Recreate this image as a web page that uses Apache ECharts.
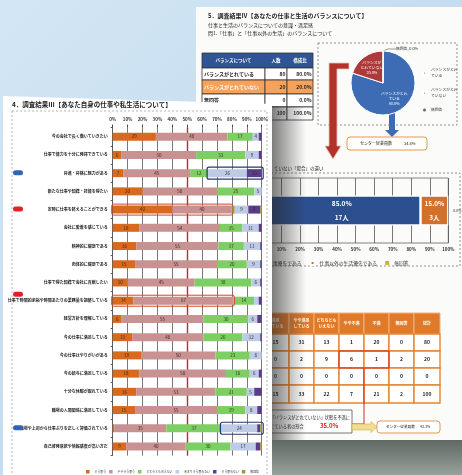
<!DOCTYPE html>
<html><head><meta charset="utf-8">
<script src="https://cdn.jsdelivr.net/npm/echarts@6/dist/echarts.min.js"></script>
<style>html,body{margin:0;padding:0;background:#c4dcef}#c{width:462px;height:475px}</style>
</head><body><div id="c"></div><script>
// ---------- Front page: 調査結果Ⅲ ----------
const categories = [
 '今の会社で長く働いていきたい',
 '仕事で能力を十分に発揮できている',
 '昇進・昇格に魅力がある',
 '新たな仕事や知識・技能を得たい',
 '定時に仕事を終えることができる',
 '会社に愛着を感じている',
 '精神的に健康である',
 '肉体的に健康である',
 '仕事で得た知識で会社に貢献したい',
 '仕事で時間的余裕や時間あたりの業務量を調整している',
 '経営方針を理解している',
 '今の仕事に満足している',
 '今の仕事はやりがいがある',
 '今の給与に満足している',
 '十分な休暇が取れている',
 '職場の人間関係に満足している',
 '職場や上司から仕事ぶりを正しく評価されている',
 '自己啓発意欲や情報感度が高い方だ'
];
const seriesNames = ['そう思う','ややそう思う','どちらとも言えない','あまりそう思わない','そう思わない','無回答'];
const souOmou     = [29, 6, 7,20,40,18,16,15,10,14, 6,13,19,18,16,15, 1, 9];
const yayaSouOmou = [48,50,45,50,40,54,55,55,45,67,55,48,50,58,53,55,35,40];
const dochiraMo   = [17,33,12,25, 2,15,17,20,38,14,30,26,23,16,21,19,37,30];
const amariSou    = [ 4, 9,26, 5, 9,11,11, 9, 6, 3, 6,12, 8, 6, 5, 8,24,17];
const souOmowanai = [ 2, 2,10, 0, 8, 2, 1, 1, 1, 2, 3, 1, 0, 2, 5, 3, 2, 3];
const mukaito     = [ 0, 0, 0, 0, 1, 0, 0, 0, 0, 0, 0, 0, 0, 0, 0, 0, 1, 1];
const pctTicks = ['0%','10%','20%','30%','40%','50%','60%','70%','80%','90%','100%'];
const blueMarkedRows = [2, 16];
const redMarkedRows = [4, 9];

// ---------- Back page: 調査結果Ⅳ ----------
const balanceLabels = ['バランスがとれている','バランスがとれていない','無回答','合計'];
const balanceCounts = [80, 20, 0, 100];
const balanceRatios = ['80.0%','20.0%','0.0%','100.0%'];
const pieNames = ['バランスがとれている','バランスがとれていない','無回答'];
const pieValues = [80, 20, 0];
const priorityNames = ['仕事優先である','仕事以外の生活優先である','無回答'];
const priorityPct = [85.0, 15.0, 0.0];
const priorityPeople = [17, 3, 0];
const crossHeaders = ['満足\nしている','やや満足\nしている','どちらとも\nいえない','やや不満','不満','無回答','総計'];
const crossBalanced   = [15,31,13,1,20,0,80];
const crossUnbalanced = [0,2,9,6,1,2,20];
const crossNoAnswer   = [0,0,0,0,0,0,0];
const crossTotal      = [15,33,22,7,21,2,100];

const FONT = '"Noto Sans CJK JP","Noto Sans",sans-serif';
const frontColors = ['#d8691d','#c99292','#7dcf63','#bdcbe6','#5a3c8b','#9c9a3a'];
const frontData = [souOmou, yayaSouOmou, dochiraMo, amariSou, souOmowanai, mukaito];

const chart = echarts.init(document.getElementById('c'), null, {renderer:'canvas'});

function T(x, y, text, o) {
  o = o || {};
  return {type:'text', x:x, y:y, z:o.z == null ? 3 : o.z, silent:true,
    style:{text:text, fill:o.fill||'#222', fontSize:o.size||5, fontFamily:FONT,
      fontWeight:o.weight||'normal', align:o.align||'left', textAlign:o.align||'left',
      verticalAlign:o.va||'middle', textVerticalAlign:o.va||'middle', lineHeight:o.lh||undefined}};
}
function R(x, y, w, h, style, z, r) {
  return {type:'rect', shape:{x:x,y:y,width:w,height:h,r:r||0}, style:style, z:z, silent:true};
}

const G = [];
// background
G.push(R(0,0,462,475,{fill:new echarts.graphic.LinearGradient(0,0,1,1,[{offset:0,color:'#d3e6f4'},{offset:1,color:'#b7d3ea'}])},0));
// back page
G.push(R(196,7,266,434,{fill:'#fbfbf9'},1));
G.push(R(262,440,200,35,{fill:new echarts.graphic.LinearGradient(0,0,0,1,[{offset:0,color:'#5f6863'},{offset:1,color:'#97a29b'}])},1));
// back page texts
G.push(T(208,16,'5．調査結果Ⅳ【あなたの仕事と生活のバランスについて】',{size:6,weight:'bold'}));
G.push(T(208,25,'仕事と生活のバランスについての意識・満足感',{size:5}));
G.push(T(208,33.5,'問1.「仕事」と「仕事以外の生活」のバランスについて',{size:5}));
// balance table
(function(){
  const cx = [202,265,287,313], ry = [53,68,80,94,107,120];
  G.push(R(202,53,111,15,{fill:'#2f5597',stroke:'#333',lineWidth:0.8},2));
  ['バランスについて','人数','構成比'].forEach((h,i)=>G.push(T((cx[i]+cx[i+1])/2,60.5,h,{size:4.5,fill:'#fff',weight:'bold',align:'center'})));
  balanceLabels.forEach((lab,i)=>{
    const y0 = ry[i+1], h = ry[i+2]-ry[i+1];
    for (let c=0;c<3;c++) G.push(R(cx[c],y0,cx[c+1]-cx[c],h,{fill:i===1?'#f4a25c':'#ffffff',stroke:'#333',lineWidth:0.8},2));
    G.push(T(cx[0]+2,y0+h/2,lab,{size:5,weight:'bold',fill:i===1?'#fff':'#222'}));
    G.push(T(cx[2]-1.5,y0+h/2,String(balanceCounts[i]),{size:5,weight:'bold',align:'right'}));
    G.push(T(cx[3]-1.5,y0+h/2,balanceRatios[i],{size:5,weight:'bold',align:'right'}));
  });
})();
// pie box
G.push(R(318,43,139,82,{fill:'none',stroke:'#777',lineWidth:0.8,lineDash:[2,2]},2));
// red L arrow
G.push({type:'polygon',z:3,silent:true,shape:{points:[[329,63],[349,63],[349,69],[337,69],[337,146],[341,146],[333,159],[325,146],[329,146]]},style:{fill:'#b53229',stroke:'#e6c4c0',lineWidth:0.8}});
// blue arrow from pie
G.push({type:'polygon',z:3,silent:true,shape:{points:[[389,112],[395,112],[395,130],[399,130],[392,137],[385,130],[389,130]]},style:{fill:'#3d6cb5'}});
G.push(R(347,137,80,13,{fill:'#fff',stroke:'#e09a4a',lineWidth:1},3,3));
G.push(T(360,143.5,'センター従業員数',{size:4}));
G.push(T(404,143.5,'34.4%',{size:4}));
// second section
G.push(T(274,168,'ていない「場合」の違い',{size:4.5}));
G.push(R(271,173,189,93,{fill:'none',stroke:'#777',lineWidth:0.8,lineDash:[2,2]},2));
// cross table
(function(){
  const cx = [262,289,314,339,364,389,414,440], ry = [313,334,351,368,385,403];
  const rows = [crossBalanced, crossUnbalanced, crossNoAnswer, crossTotal];
  for (let c=0;c<7;c++) {
    G.push(R(cx[c],ry[0],cx[c+1]-cx[c],ry[1]-ry[0],{fill:'#e07a2b',stroke:'#f3b27a',lineWidth:1},2));
    G.push(T((cx[c]+cx[c+1])/2,(ry[0]+ry[1])/2,crossHeaders[c],{size:4,fill:'#fff',weight:'bold',align:'center',lh:5.5}));
  }
  rows.forEach((row,i)=>{
    for (let c=0;c<7;c++) {
      G.push(R(cx[c],ry[i+1],cx[c+1]-cx[c],ry[i+2]-ry[i+1],{fill:'#fff',stroke:'#e38636',lineWidth:1.4},2));
      G.push(T((cx[c]+cx[c+1])/2,(ry[i+1]+ry[i+2])/2,String(row[c]),{size:5,weight:'bold',align:'center'}));
    }
  });
  G.push(R(339,351,50,17,{fill:'none',stroke:'#d42a20',lineWidth:1},3));
  G.push({type:'polyline',z:3,silent:true,shape:{points:[[364,368],[364,424],[352,424]]},style:{stroke:'#d42a20',lineWidth:1,fill:'none'}});
})();
G.push(R(262,410,90,23,{fill:'#fff',stroke:'#555',lineWidth:0.8},3));
G.push(T(350,417,'「バランスがとれていない」状態を不満に',{size:4.2,align:'right'}));
G.push(T(266,426,'感じている者の割合',{size:4.2}));
G.push(T(320,425.5,'35.0%',{size:6,weight:'bold',fill:'#e0201a'}));
G.push({type:'polygon',z:3,silent:true,shape:{points:[[352,424],[371,424],[371,421.5],[377,427],[371,432.5],[371,430],[352,430]]},style:{fill:'#f2dc92',stroke:'#c9b060',lineWidth:0.6}});
G.push(R(377,421,63,12,{fill:'#fff',stroke:'#e09a4a',lineWidth:1},3,3));
G.push(T(386,427,'センター従業員数',{size:3.6}));
G.push(T(420,427,'43.3%',{size:3.6}));
// shadow of front page on back page
G.push(R(272,106,34,334,{fill:new echarts.graphic.LinearGradient(0,0,1,0,[{offset:0,color:'rgba(40,40,40,0.6)'},{offset:1,color:'rgba(40,40,40,0)'}])},4));
// front page
G.push({type:'polygon',z:5,silent:true,shape:{points:[[3,96],[272,104],[272,475],[3,475]]},style:{fill:'#ffffff'}});
G.push(R(12,111,255,370,{fill:'none',stroke:'#999',lineWidth:0.7,lineDash:[2,2]},6));
G.push(T(12,105,'4．調査結果Ⅲ【あなた自身の仕事や私生活について】',{size:6.5,weight:'bold',z:6}));

const frontSeries = seriesNames.map((name,si)=>({
  name:name, type:'bar', stack:'front', xAxisIndex:0, yAxisIndex:0, barWidth:8, z:8,
  itemStyle:{color:frontColors[si]},
  label:{fontSize:4.5, color:'#3a2a22', fontFamily:FONT, position:'inside'},
  data: frontData[si].map(v=>({value:v, label:{show: si<4 ? v>=4 : (si===4 && v>=8)}})),
  markLine: si===0 ? {silent:true, symbol:'none', label:{show:false}, lineStyle:{color:'#e0201c',width:1.4,type:'solid'}, data:[{xAxis:50}]} : undefined
}));

const backBarColors = ['#2c4f8f','#d3712b','#c8b43a'];
const backSeries = priorityNames.map((name,i)=>({
  name:name, type:'bar', stack:'back', xAxisIndex:1, yAxisIndex:1, barWidth:30, z:3,
  itemStyle:{color:backBarColors[i], borderColor:'#fff', borderWidth:i<2?1.2:0},
  label: i<2 ? {show:true, position:'inside', color:'#fff', fontWeight:'bold', fontSize:6.5, lineHeight:14, fontFamily:FONT,
     formatter:p=>p.value.toFixed(1)+'%\n'+priorityPeople[i]+'人'}
     : {show:true, position:'right', color:'#333', fontSize:3.5, fontFamily:FONT, formatter:p=>p.value.toFixed(1)+'%'},
  data:[priorityPct[i]]
}));

const pieColors = ['#3d6cb5','#ad3a3a','#9a9a9a'];
const pieWrapped = ['バランスがとれ\nている','バランスが\nとれていない'];
const pieSeries = {
  type:'pie', name:'バランス', center:[383,83], radius:32, startAngle:90, z:3,
  itemStyle:{borderColor:'#fff', borderWidth:1},
  labelLine:{length:4, length2:8, lineStyle:{color:'#555',width:0.6}},
  labelLayout: p => p.dataIndex === 2 ? {x:396, y:49, align:'left', verticalAlign:'middle'} : {},
  data: pieNames.map((n,i)=>({name:n, value:pieValues[i], itemStyle:{color:pieColors[i]},
    label: i<2 ? {show:true, position:'inside', color:'#fff', fontSize:3.8, lineHeight:5, fontFamily:FONT,
      formatter:p=>pieWrapped[i]+'\n'+p.percent.toFixed(1)+'%'}
      : {show:true, position:'outside', color:'#333', fontSize:3.8, fontFamily:FONT,
      formatter:p=>p.name+', '+p.percent.toFixed(1)+'%'}}))
};

const option = {
  backgroundColor:'#c4dcef',
  animation:false,
  textStyle:{fontFamily:FONT},
  graphic:{elements:G},
  grid:[
    {left:112.7, width:149, top:127.6, height:328},
    {left:263, width:185.3, top:178, height:65, show:true, borderColor:'#666', borderWidth:0.8, backgroundColor:'transparent', z:2}
  ],
  xAxis:[
    {gridIndex:0, type:'value', position:'top', min:0, max:100, interval:10, z:7,
      axisLabel:{fontSize:4.5, color:'#333', fontWeight:'bold', margin:6, formatter:v=>pctTicks[v/10]},
      axisLine:{show:false}, axisTick:{show:true, length:3, lineStyle:{color:'#444'}},
      splitLine:{show:true, lineStyle:{color:'#555', width:0.8}}},
    {gridIndex:1, type:'value', min:0, max:100, interval:10, z:2,
      axisLabel:{fontSize:4.5, color:'#333', fontWeight:'bold', margin:4, formatter:v=>pctTicks[v/10]},
      axisLine:{show:false}, axisTick:{show:false},
      splitLine:{show:true, lineStyle:{color:'#555', width:0.8}}}
  ],
  yAxis:[
    {gridIndex:0, type:'category', inverse:true, data:categories, z:7,
      axisLabel:{fontSize:4, color:'#222', fontWeight:'bold', margin:5},
      axisLine:{show:true, lineStyle:{color:'#555', width:0.8}}, axisTick:{show:true, length:2, lineStyle:{color:'#555'}}},
    {gridIndex:1, type:'category', data:['バランスがとれていない場合'], z:2,
      axisLabel:{show:false}, axisLine:{show:false}, axisTick:{show:false}}
  ],
  legend:[
    {z:9, right:198, top:465, itemWidth:3.5, itemHeight:3.5, itemGap:3, icon:'rect',
      textStyle:{fontSize:2.9, color:'#333', fontFamily:FONT},
      data: seriesNames.map((n,i)=>({name:n, itemStyle:{color:frontColors[i]}}))},
    {z:3, left:253, top:255, itemWidth:4, itemHeight:4, itemGap:8, icon:'rect',
      textStyle:{fontSize:4.8, color:'#333', fontFamily:FONT},
      data: priorityNames.map((n,i)=>({name:n, itemStyle:{color:backBarColors[i]}}))},
    {z:3, left:417, top:62, orient:'vertical', itemWidth:3, itemHeight:3, itemGap:8, icon:'circle',
      textStyle:{fontSize:3.8, color:'#333', fontFamily:FONT, width:27, overflow:'break', lineHeight:6},
      data: pieNames.map((n,i)=>({name:n, itemStyle:{color:'#666'}}))}
  ],
  series:[...frontSeries, ...backSeries, pieSeries]
};
chart.setOption(option);

// annotation overlays placed through the axes' own scales
const over = [];
function px(v){ return chart.convertToPixel({xAxisIndex:0}, v); }
function py(i){ return chart.convertToPixel({yAxisIndex:0}, categories[i]); }
blueMarkedRows.forEach(i=>{
  const start = souOmou[i]+yayaSouOmou[i]+dochiraMo[i];
  const x0 = px(start)-1, x1 = px(100)+1.5, y = py(i);
  over.push(R(x0,y-6,x1-x0,12,{fill:'none',stroke:'#2a3a66',lineWidth:1.2},10,2));
  over.push(R(13,y-3,10,5,{fill:'#2f63b4'},10,2.5));
});
redMarkedRows.forEach(i=>{
  const end = souOmou[i]+yayaSouOmou[i];
  const x0 = px(0)-1, x1 = px(end)+1, y = py(i);
  over.push(R(x0,y-5.5,x1-x0,11,{fill:'none',stroke:'#d9442c',lineWidth:1},10,2));
  over.push(R(13,y-(i===9?9:3),10,5,{fill:'#e3202a'},10,2.5));
});
chart.setOption({graphic:{elements:G.concat(over)}});
</script></body></html>
